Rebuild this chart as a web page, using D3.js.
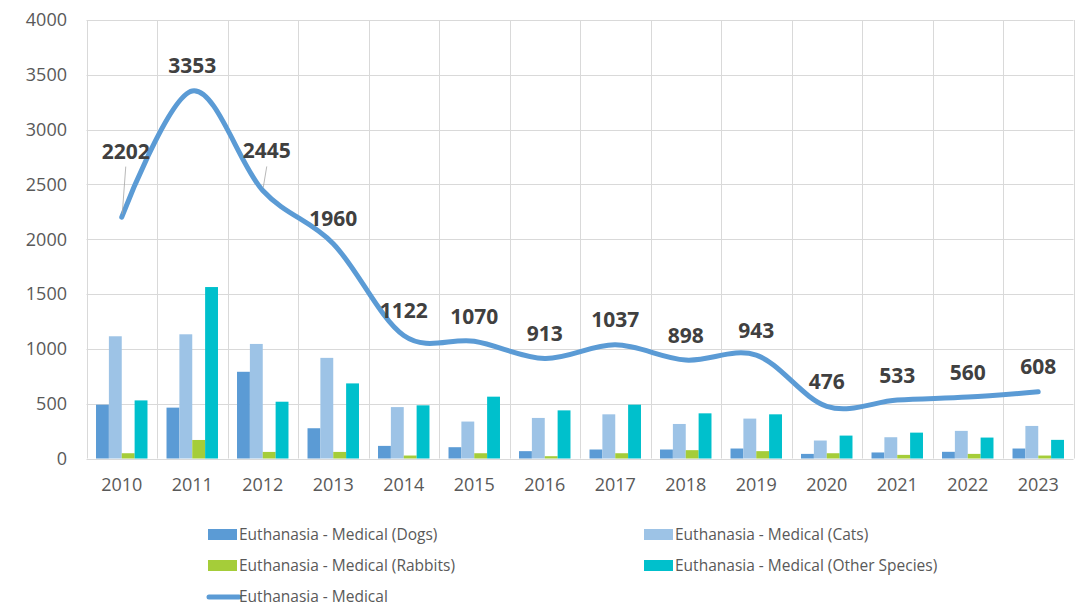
<!DOCTYPE html>
<html>
<head>
<meta charset="utf-8">
<script src="https://cdn.jsdelivr.net/npm/d3@7"></script>
<style>
  body { margin: 0; background: #fff; }
  svg { display: block; font-family: "Open Sans", sans-serif; }
</style>
</head>
<body>
<div id="chart"></div>
<script>
const width = 1075, height = 610;

// data
const years = ["2010", "2011", "2012", "2013", "2014", "2015", "2016", "2017", "2018", "2019", "2020", "2021", "2022", "2023"];
const dogs = [491, 464, 791, 276, 115, 103, 67, 82, 82, 91, 42, 55, 61, 91];
const cats = [1115, 1133, 1045, 918, 469, 337, 370, 403, 315, 364, 164, 194, 252, 297];
const rabbits = [48, 169, 60, 60, 27, 48, 21, 48, 76, 67, 48, 33, 42, 27];
const otherSpecies = [530, 1564, 518, 685, 485, 564, 439, 491, 412, 403, 209, 236, 191, 170];
const medicalTotal = [2202, 3353, 2445, 1960, 1122, 1070, 913, 1037, 898, 943, 476, 533, 560, 608];
const yTicks = [0, 500, 1000, 1500, 2000, 2500, 3000, 3500, 4000];

const barSeries = [
    { name: "Euthanasia - Medical (Dogs)", values: dogs, color: "#5b9bd5" },
    { name: "Euthanasia - Medical (Cats)", values: cats, color: "#9dc3e6" },
    { name: "Euthanasia - Medical (Rabbits)", values: rabbits, color: "#a5cd39" },
    { name: "Euthanasia - Medical (Other Species)", values: otherSpecies, color: "#00c0cc" }
];
const lineName = "Euthanasia - Medical";
const lineColor = "#5b9bd5";

const plot = { left: 86.5, right: 1073.5, top: 20, bottom: 458.5 };

let svg = d3.select("#chart")
    .append("svg")
    .attr("width", width)
    .attr("height", height);

let x0 = d3.scaleBand()
    .domain(years)
    .range([plot.left, plot.right]);

let bw = x0.bandwidth();
let x1 = d3.scaleBand()
    .domain(barSeries.map(s => s.name))
    .range([bw * 0.135, bw * 0.865]);

let y = d3.scaleLinear()
    .domain([0, 4000])
    .range([plot.bottom, plot.top]);

// gridlines
let grid = svg.append("g").attr("stroke", "#d9d9d9").attr("stroke-width", 1);
grid.selectAll("line.h")
    .data(yTicks)
    .enter()
    .append("line")
    .attr("x1", plot.left)
    .attr("x2", plot.right)
    .attr("y1", d => Math.round(y(d)) + 0.5)
    .attr("y2", d => Math.round(y(d)) + 0.5);
grid.selectAll("line.v")
    .data(years.concat(["end"]))
    .enter()
    .append("line")
    .attr("x1", (d, i) => Math.round(plot.left + i * bw) + 0.5)
    .attr("x2", (d, i) => Math.round(plot.left + i * bw) + 0.5)
    .attr("y1", plot.top)
    .attr("y2", plot.bottom);

// y axis labels
svg.append("g")
    .selectAll("text")
    .data(yTicks)
    .enter()
    .append("text")
    .attr("x", 67)
    .attr("y", d => y(d))
    .attr("dy", "0.35em")
    .attr("text-anchor", "end")
    .attr("font-size", 18)
    .attr("fill", "#595959")
    .text(d => d);

// x axis labels
svg.append("g")
    .selectAll("text")
    .data(years)
    .enter()
    .append("text")
    .attr("x", d => x0(d) + bw / 2)
    .attr("y", 485)
    .attr("dy", "0.35em")
    .attr("text-anchor", "middle")
    .attr("font-size", 18)
    .attr("fill", "#595959")
    .text(d => d);

// bars
let groups = svg.append("g")
    .selectAll("g")
    .data(years)
    .enter()
    .append("g")
    .attr("transform", d => "translate(" + x0(d) + ",0)");

groups.selectAll("rect")
    .data((d, i) => barSeries.map(s => ({ series: s, value: s.values[i] })))
    .enter()
    .append("rect")
    .attr("x", d => x1(d.series.name))
    .attr("width", x1.bandwidth())
    .attr("y", d => y(d.value))
    .attr("height", d => y(0) - y(d.value))
    .attr("fill", d => d.series.color);

// smoothed total line
let linePoints = years.map((d, i) => [x0(d) + bw / 2, y(medicalTotal[i])]);
svg.append("path")
    .attr("d", d3.line().curve(d3.curveCardinal.tension(0))(linePoints))
    .attr("fill", "none")
    .attr("stroke", lineColor)
    .attr("stroke-width", 5)
    .attr("stroke-linecap", "round");

// data labels (two were dragged up in the original, with leader lines)
let nudge = { "2010": [4, -41], "2012": [4, -14.5] };
let labels = svg.append("g");
years.forEach((yr, i) => {
    let px = linePoints[i][0], py = linePoints[i][1];
    let off = nudge[yr] || [0, 0];
    let lx = px + off[0], ly = py - 17.5 + off[1];
    if (nudge[yr]) {
        labels.append("line")
            .attr("x1", lx)
            .attr("y1", ly + 8)
            .attr("x2", px + 0.5)
            .attr("y2", py - 3)
            .attr("stroke", "#a6a6a6")
            .attr("stroke-width", 0.8);
    }
    labels.append("text")
        .attr("x", lx)
        .attr("y", ly)
        .attr("text-anchor", "middle")
        .attr("font-size", 21)
        .attr("font-weight", "bold")
        .attr("fill", "#404040")
        .text(medicalTotal[i]);
});

// legend
let legendItems = barSeries.map((s, i) => ({
    name: s.name, color: s.color, kind: "bar",
    col: i % 2, row: Math.floor(i / 2)
}));
legendItems.push({ name: lineName, color: lineColor, kind: "line", col: 0, row: 2 });

let colX = [208, 644];
let rowY = [534.5, 565.5, 597];

let legend = svg.append("g")
    .selectAll("g")
    .data(legendItems)
    .enter()
    .append("g")
    .attr("transform", d => "translate(" + colX[d.col] + "," + rowY[d.row] + ")");

legend.filter(d => d.kind === "bar")
    .append("rect")
    .attr("x", 0)
    .attr("y", -5.5)
    .attr("width", 29)
    .attr("height", 11)
    .attr("fill", d => d.color);

legend.filter(d => d.kind === "line")
    .append("line")
    .attr("x1", 1)
    .attr("x2", 31)
    .attr("stroke", d => d.color)
    .attr("stroke-width", 5)
    .attr("stroke-linecap", "round");

legend.append("text")
    .attr("x", 31)
    .attr("dy", "0.35em")
    .attr("font-size", 15.5)
    .attr("fill", "#595959")
    .text(d => d.name);
</script>
</body>
</html>
